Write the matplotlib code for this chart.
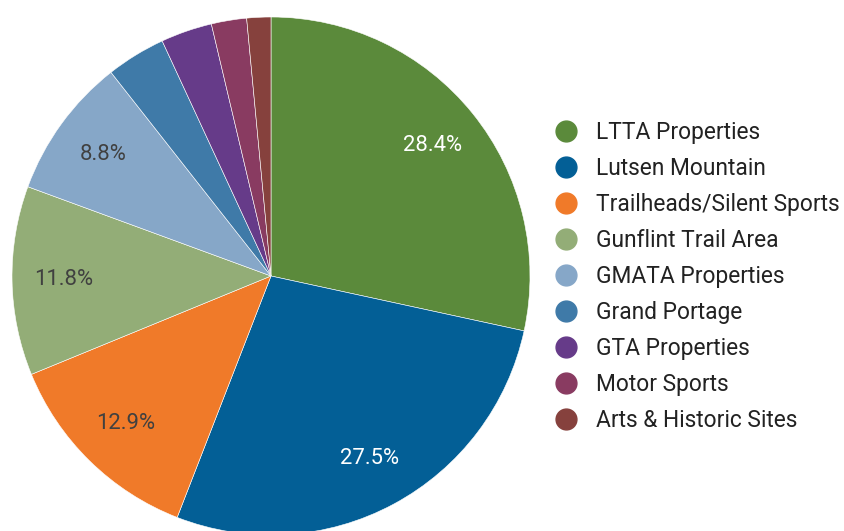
import matplotlib
matplotlib.use("Agg")
import matplotlib.pyplot as plt
from matplotlib.lines import Line2D

plt.rcParams['font.family'] = ['Roboto', 'DejaVu Sans']

categories = ["LTTA Properties", "Lutsen Mountain", "Trailheads/Silent Sports",
              "Gunflint Trail Area", "GMATA Properties", "Grand Portage",
              "GTA Properties", "Motor Sports", "Arts & Historic Sites"]
values = [28.4, 27.5, 12.9, 11.8, 8.8, 3.7, 3.2, 2.2, 1.5]
colors = ["#5b8a3b", "#035f96", "#f07a29", "#93ad77", "#86a7c8",
          "#3f7aa8", "#663b89", "#893b61", "#86413d"]
label_colors = ["white", "white", "#404040", "#404040", "#404040",
                "#404040", "#404040", "#404040", "#404040"]

fig = plt.figure(figsize=(8.44, 5.31), dpi=100)
ax = fig.add_axes([12/844, (531-535)/531, 518/844, 518/531])

wedges, texts, autotexts = ax.pie(
    values, colors=colors, startangle=90, counterclock=False,
    autopct=lambda p: f"{p:.1f}%" if p > 5 else "", pctdistance=0.8,
    wedgeprops=dict(linewidth=0.4, edgecolor="white"), radius=1.0)
for t, c in zip(autotexts, label_colors):
    t.set_color(c)
    t.set_fontsize(15.8)
ax.set_xlim(-1, 1)
ax.set_ylim(-1, 1)

handles = [Line2D([0], [0], marker='o', linestyle='none', markersize=15,
                  markerfacecolor=c, markeredgecolor=c) for c in colors]
fig.legend(handles, categories, loc='upper left',
           bbox_to_anchor=(555/844, 1 - 121/531), frameon=False,
           fontsize=16.4, handletextpad=0.78, labelspacing=0.57,
           borderaxespad=0, borderpad=0, labelcolor="#222222", handlelength=1.0)

fig.savefig("out.png", dpi=100)
